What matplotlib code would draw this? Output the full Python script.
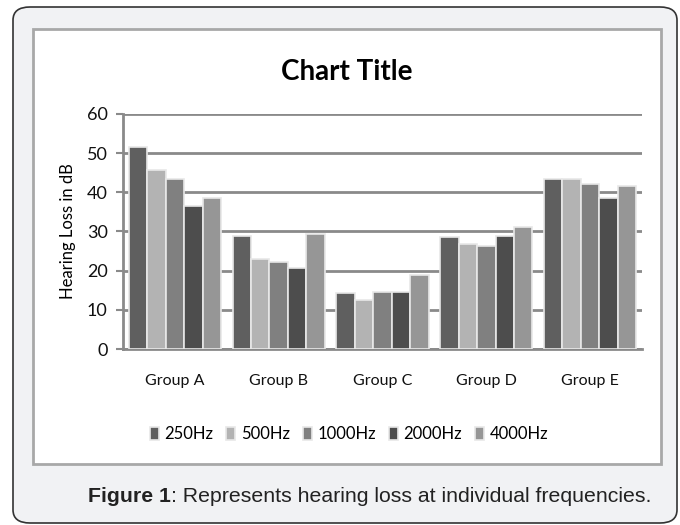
import matplotlib.pyplot as plt
import numpy as np
from matplotlib.patches import FancyBboxPatch, Rectangle

# data
groups = ['Group A', 'Group B', 'Group C', 'Group D', 'Group E']
freqs = ['250Hz', '500Hz', '1000Hz', '2000Hz', '4000Hz']
hz250 = [51.6, 28.9, 14.2, 28.5, 43.5]
hz500 = [45.8, 23.0, 12.6, 26.9, 43.5]
hz1000 = [43.5, 22.3, 14.5, 26.2, 42.0]
hz2000 = [36.5, 20.7, 14.5, 28.9, 38.5]
hz4000 = [38.5, 29.3, 18.8, 31.1, 41.6]
yticks = [0, 10, 20, 30, 40, 50, 60]

series = [hz250, hz500, hz1000, hz2000, hz4000]
colors = ['#5f5f5f', '#b3b3b3', '#808080', '#4d4d4d', '#969696']

font = ['Lato', 'DejaVu Sans']
capfont = ['Liberation Sans', 'DejaVu Sans']
W, H = 680, 525
fig = plt.figure(figsize=(6.8, 5.25), dpi=100)
fig.patch.set_facecolor('white')

# outer rounded panel
fig.patches.append(FancyBboxPatch((13 / W, 2 / H), 664 / W, 516 / H,
                                  boxstyle='round,pad=0,rounding_size=0.025',
                                  transform=fig.transFigure, facecolor='#f1f2f4',
                                  edgecolor='#333333', linewidth=1.2, zorder=0))
# white chart area with grey border
fig.patches.append(Rectangle((33 / W, 1 - 464 / H), 628 / W, 435 / H,
                             transform=fig.transFigure, facecolor='white',
                             edgecolor='#a8a8a8', linewidth=2, zorder=1))

ax = fig.add_axes([123 / W, 1 - 349 / H, 519 / W, 235 / H])
ax.set_zorder(3)
ax.set_facecolor('none')
x = np.arange(len(groups))
bw = 0.178
for i, (vals, c) in enumerate(zip(series, colors)):
    ax.bar(x + (i - 2) * bw, vals, bw, color=c, edgecolor='#e8e8e8',
           linewidth=1.2, label=freqs[i], zorder=3)

ax.set_xlim(-0.5, 4.5)
ax.set_ylim(0, 60)
ax.set_yticks(yticks)
ax.yaxis.grid(True, color='#8a8a8a', linewidth=2)
ax.set_axisbelow(True)
for s in ['top', 'right']:
    ax.spines[s].set_visible(False)
for s in ['left', 'bottom']:
    ax.spines[s].set_color('#8a8a8a')
    ax.spines[s].set_linewidth(2)
ax.tick_params(axis='y', length=5, width=1.5, color='#8a8a8a', pad=6,
               labelsize=13, labelcolor='#111111')
ax.tick_params(axis='x', length=0, pad=18, labelsize=11.5, labelcolor='#111111')
ax.set_xticks(x)
ax.set_xticklabels(groups)
for lab in ax.get_xticklabels() + ax.get_yticklabels():
    lab.set_family(font)
ax.set_ylabel('Hearing Loss in dB', family=font, fontsize=12, labelpad=8)

fig.text(347 / W, 1 - 72 / H, 'Chart Title', ha='center', va='center',
         fontsize=20, fontweight='bold', family=font, zorder=4)

leg = fig.legend(*ax.get_legend_handles_labels(), loc='center',
                 bbox_to_anchor=(349 / W, 1 - 434 / H), ncol=5, frameon=False,
                 prop={'family': font, 'size': 12}, handlelength=0.55,
                 handleheight=0.85, handletextpad=0.35, columnspacing=0.75)
leg.set_zorder(4)

# caption with bold prefix
t1 = fig.text(88 / W, 1 - 496 / H, 'Figure 1', ha='left', va='center', fontsize=15.3,
              fontweight='bold', color='#222222', family=capfont, zorder=4)
fig.canvas.draw()
w1 = t1.get_window_extent().width
fig.text((88 + w1) / W, 1 - 496 / H, ': Represents hearing loss at individual frequencies.',
         ha='left', va='center', fontsize=15.3, color='#222222',
         family=capfont, zorder=4)

fig.savefig('out.png', dpi=100)
